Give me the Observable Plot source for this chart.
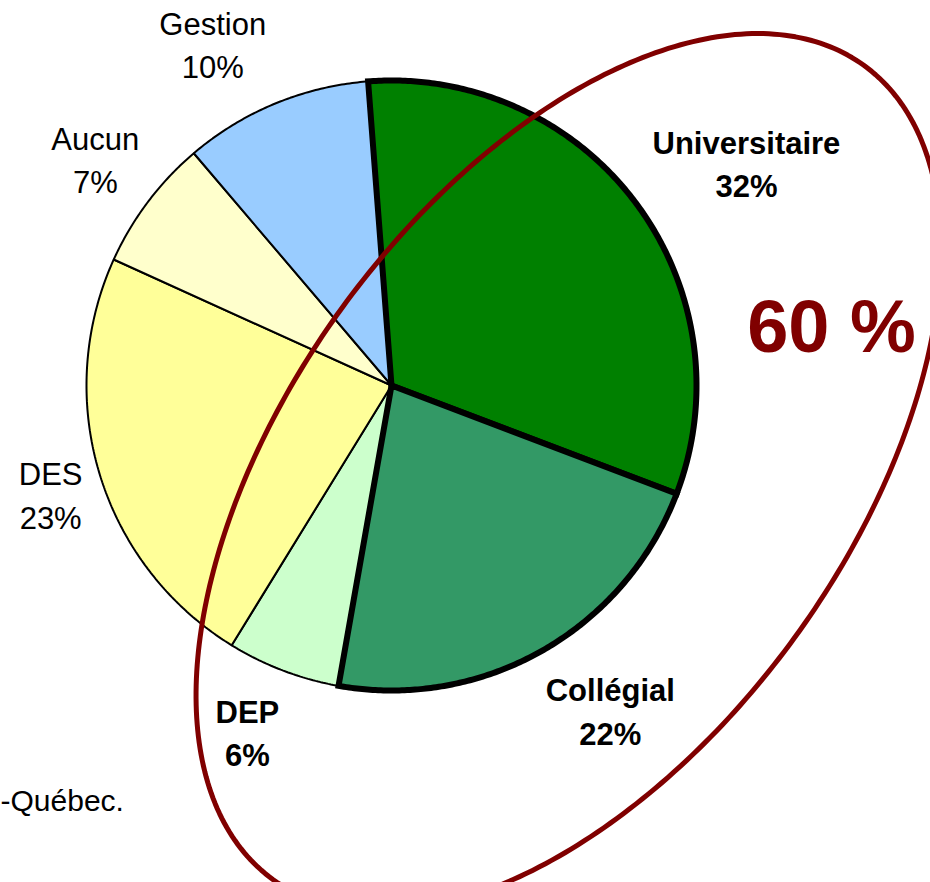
<!DOCTYPE html>
<html><head><meta charset="utf-8">
<script src="https://cdn.jsdelivr.net/npm/d3@7"></script>
<script src="https://cdn.jsdelivr.net/npm/@observablehq/plot@0.6"></script>
<style>
body{margin:0;background:#fff}
#chart{position:relative;width:930px;height:882px;overflow:hidden;background:#fff}
#chart svg{display:block}
</style>
</head><body><div id="chart"></div>
<script>
// ---- data ----
const categories = ["Universitaire", "Collégial", "DEP", "DES", "Aucun", "Gestion"];
const shares = [32, 22, 6, 23, 7, 10];
const shareLabels = ["32%", "22%", "6%", "23%", "7%", "10%"];
const sliceColors = ["#008000", "#339966", "#CCFFCC", "#FFFF99", "#FFFFCC", "#99CCFF"];
const emphasized = ["Universitaire", "Collégial"];          // bold outline + bold label
const grouped = ["Universitaire", "Collégial", "DEP"];      // circled group
const sourceNote = "-Québec.";

// ---- layout ----
const W = 930, H = 882;
const CX = 391, CY = 385, R = 305;      // pie centre / radius in pixels
const startAngle = -4.4;                 // degrees clockwise from 12 o'clock
const px = v => (v - CX) / R;            // pixel -> data helpers (for annotations)
const py = v => (CY - v) / R;
const labelRadius = 1.22;
const labelNudge = {                     // pixel nudges from the radial anchor
  "Universitaire": [57, -1], "Collégial": [35, 0], "DEP": [-12, -3],
  "DES": [15, -1], "Aucun": [1, -4], "Gestion": [-37, 1]
};
const ellipse = {cx: px(568), cy: py(472), a: 503 / R, b: 280 / R, phi: 54};

// ---- build geometry through angles ----
const total = d3.sum(shares);
let acc = startAngle;
const slices = categories.map((c, i) => {
  const a0 = acc, a1 = acc + shares[i] / total * 360;
  acc = a1;
  const pts = [{x: 0, y: 0}];
  const n = Math.max(2, Math.ceil((a1 - a0) / 0.5));
  for (let k = 0; k <= n; k++) {
    const t = (a0 + (a1 - a0) * k / n) * Math.PI / 180;
    pts.push({x: Math.sin(t), y: Math.cos(t)});
  }
  pts.push({x: 0, y: 0});
  const mid = (a0 + a1) / 2 * Math.PI / 180;
  return {category: c, pts, color: sliceColors[i], mid,
          label: c + "\n" + shareLabels[i], bold: emphasized.includes(c)};
});

const ellPts = d3.range(0, 361, 1).map(d => {
  const t = d * Math.PI / 180, f = ellipse.phi * Math.PI / 180;
  return {
    x: ellipse.cx + ellipse.a * Math.cos(t) * Math.cos(f) - ellipse.b * Math.sin(t) * Math.sin(f),
    y: ellipse.cy + ellipse.a * Math.cos(t) * Math.sin(f) + ellipse.b * Math.sin(t) * Math.cos(f)
  };
});

const labels = slices.map(s => ({
  x: labelRadius * Math.sin(s.mid), y: labelRadius * Math.cos(s.mid),
  text: s.label, bold: s.bold || s.category === "DEP",
  dx: labelNudge[s.category][0], dy: labelNudge[s.category][1]
}));

const groupTotal = d3.sum(categories.map((c, i) => grouped.includes(c) ? shares[i] : 0));

const font = "'Liberation Sans', Arial, Helvetica, sans-serif";
const marks = [];
slices.filter(s => !s.bold).forEach(s => marks.push(
  Plot.line(s.pts, {x: "x", y: "y", fill: s.color, stroke: "black", strokeWidth: 2, strokeLinejoin: "miter", curve: "linear"})));
slices.filter(s => s.bold).forEach(s => marks.push(
  Plot.line(s.pts, {x: "x", y: "y", fill: s.color, stroke: "black", strokeWidth: 6, strokeLinejoin: "miter", strokeMiterlimit: 10, curve: "linear"})));
marks.push(Plot.line(ellPts, {x: "x", y: "y", stroke: "#800000", strokeWidth: 5, fill: "none", curve: "linear"}));
labels.forEach(l => marks.push(Plot.text([l], {
  x: "x", y: "y", text: "text", dx: l.dx, dy: l.dy, fontSize: 31, lineHeight: 1.4,
  fontWeight: l.bold ? "bold" : "normal", fill: "black", textAnchor: "middle"})));
marks.push(Plot.text([groupTotal + " %"], {x: px(831), y: py(328), text: d => d, fontSize: 74, fontWeight: "bold", fill: "#800000", textAnchor: "middle"}));
marks.push(Plot.text([sourceNote], {x: px(0), y: py(801), text: d => d, fontSize: 30, fill: "black", textAnchor: "start"}));

const chart = Plot.plot({
  width: W, height: H, margin: 0,
  x: {domain: [px(0), px(W)], range: [0, W], axis: null},
  y: {domain: [py(H), py(0)], range: [H, 0], axis: null},
  style: {fontFamily: font, background: "white", overflow: "hidden"},
  marks
});
document.getElementById("chart").appendChild(chart);
</script>
</body></html>
